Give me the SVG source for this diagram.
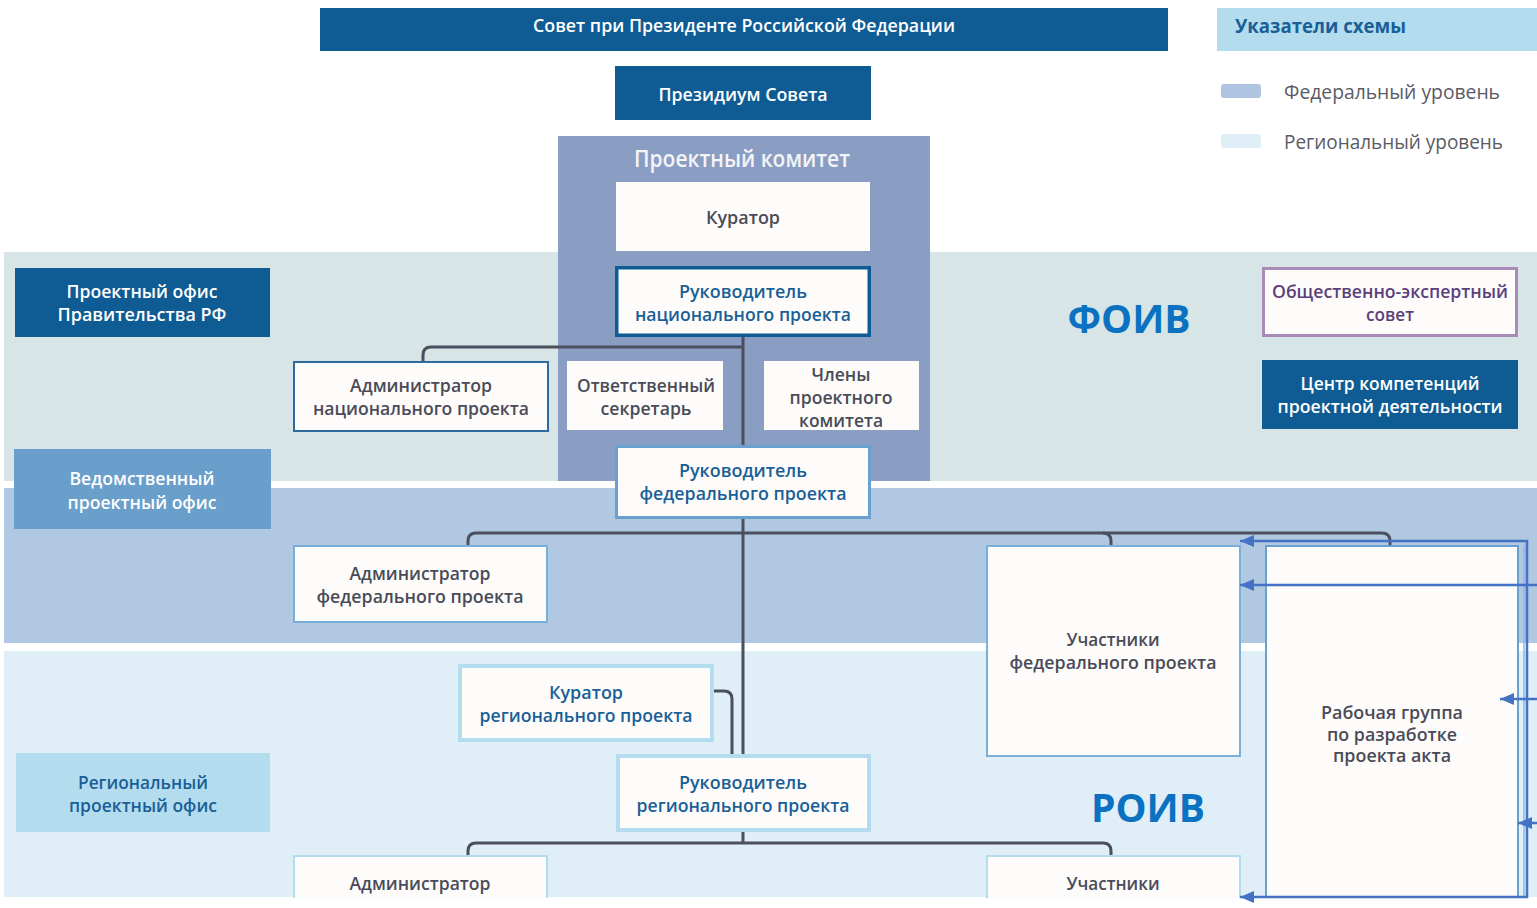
<svg xmlns="http://www.w3.org/2000/svg" width="1537" height="908" viewBox="0 0 1537 908">
<defs>
<style>
.t{font-family:"Open Sans","Noto Sans","Liberation Sans",sans-serif;font-size:18px;font-weight:600;text-anchor:middle}
.w{fill:#ffffff}
.g{fill:#4a4b57}
.b{fill:#1a5f96}
.big{font-family:"Open Sans","Noto Sans","Liberation Sans",sans-serif;font-size:40px;font-weight:700;fill:#0a72c0;text-anchor:middle}
.leg{font-family:"Open Sans","Noto Sans","Liberation Sans",sans-serif;font-size:20px;font-weight:400;fill:#5a5b66}
.dark{fill:#0e5c93}
.box{fill:#fdfcfb}
.con{fill:none;stroke:#4b4f5e;stroke-width:3;stroke-linejoin:round}
.arr{fill:none;stroke:#4472c4;stroke-width:2.5}
</style>
<marker id="ah" viewBox="0 0 14 12" refX="14" refY="6" markerWidth="14" markerHeight="12" markerUnits="userSpaceOnUse" orient="auto-start-reverse">
<path d="M0,0 L14,6 L0,12 Z" fill="#4472c4"/>
</marker>
</defs>

<rect width="1537" height="908" fill="#ffffff"/>

<g id="bands">
<rect x="4" y="252" width="1533" height="229" fill="#d8e5e6"/>
<rect x="4" y="488" width="1533" height="155" fill="#b0c8e2"/>
<rect x="4" y="651" width="1533" height="246" fill="#e0eef8"/>
</g>

<g id="legend">
<rect x="1217" y="8" width="320" height="43" fill="#b3dcef"/>
<text x="1235" y="33" font-family="Open Sans, Noto Sans, Liberation Sans, sans-serif" font-size="20" font-weight="700" fill="#1a5f96" textLength="171" lengthAdjust="spacingAndGlyphs">Указатели схемы</text>
<rect x="1221" y="84" width="40" height="14" rx="3" fill="#aec4e0"/>
<text class="leg" x="1284" y="99" textLength="216" lengthAdjust="spacingAndGlyphs">Федеральный уровень</text>
<rect x="1221" y="134" width="40" height="14" rx="3" fill="#e0eef8"/>
<text class="leg" x="1284" y="149" textLength="219" lengthAdjust="spacingAndGlyphs">Региональный уровень</text>
</g>

<g id="sovet">
<rect class="dark" x="320" y="8" width="848" height="43"/>
<text class="t w" x="744" y="32" textLength="422" lengthAdjust="spacingAndGlyphs">Совет при Президенте Российской Федерации</text>
</g>

<g id="prezidium">
<rect class="dark" x="615" y="66" width="256" height="54"/>
<text class="t w" x="743" y="101" textLength="169" lengthAdjust="spacingAndGlyphs">Президиум Совета</text>
</g>

<g id="komitet">
<rect x="558" y="136" width="372" height="345" fill="#8a9dc3"/>
<text class="t" x="742" y="167" style="font-size:23px" fill="#f4f4f6" textLength="216" lengthAdjust="spacingAndGlyphs">Проектный комитет</text>
</g>

<g id="connectors">
<path class="con" d="M743,337 V754"/>
<path class="con" d="M743,347 H431 Q423,347 423,355 V361"/>
<path class="con" d="M468,545 V541 Q468,533 476,533 H1382 Q1390,533 1390,541 V545"/>
<path class="con" d="M1103,533 Q1111,533 1111,541 V545"/>
<path class="con" d="M713,691 H724 Q732,691 732,699 V755"/>
<path class="con" d="M743,831 V843"/>
<path class="con" d="M468,855 V851 Q468,843 476,843 H1103 Q1111,843 1111,851 V855"/>
</g>

<g id="kurator">
<rect class="box" x="616" y="182" width="254" height="69"/>
<text class="t g" x="743" y="224" textLength="74" lengthAdjust="spacingAndGlyphs">Куратор</text>
</g>

<g id="ruk-nac">
<rect class="box" x="616.75" y="267.75" width="252.5" height="67.5" stroke="#0e5c93" stroke-width="3.5"/>
<text class="t b" x="743" y="298" textLength="128" lengthAdjust="spacingAndGlyphs">Руководитель</text>
<text class="t b" x="743" y="321" textLength="216" lengthAdjust="spacingAndGlyphs">национального проекта</text>
</g>

<g id="adm-nac">
<rect class="box" x="294" y="362" width="254" height="69" stroke="#2e6aa0" stroke-width="2"/>
<text class="t g" x="421" y="392" textLength="142" lengthAdjust="spacingAndGlyphs">Администратор</text>
<text class="t g" x="421" y="415" textLength="216" lengthAdjust="spacingAndGlyphs">национального проекта</text>
</g>

<g id="sekretar">
<rect class="box" x="567" y="361" width="156" height="69"/>
<text class="t g" x="646" y="392" textLength="138" lengthAdjust="spacingAndGlyphs">Ответственный</text>
<text class="t g" x="646" y="415" textLength="91" lengthAdjust="spacingAndGlyphs">секретарь</text>
</g>

<g id="chleny">
<rect class="box" x="764" y="361" width="155" height="69"/>
<text class="t g" x="841" y="381" textLength="59" lengthAdjust="spacingAndGlyphs">Члены</text>
<text class="t g" x="841" y="404" textLength="103" lengthAdjust="spacingAndGlyphs">проектного</text>
<text class="t g" x="841" y="427" textLength="84" lengthAdjust="spacingAndGlyphs">комитета</text>
</g>

<g id="ruk-fed">
<rect class="box" x="616.5" y="446.5" width="253" height="71" stroke="#6aa0cf" stroke-width="3"/>
<text class="t b" x="743" y="477" textLength="128" lengthAdjust="spacingAndGlyphs">Руководитель</text>
<text class="t b" x="743" y="500" textLength="207" lengthAdjust="spacingAndGlyphs">федерального проекта</text>
</g>

<g id="po-prav">
<rect class="dark" x="15" y="268" width="255" height="69"/>
<text class="t w" x="142" y="298" textLength="151" lengthAdjust="spacingAndGlyphs">Проектный офис</text>
<text class="t w" x="142" y="321" textLength="169" lengthAdjust="spacingAndGlyphs">Правительства РФ</text>
</g>

<g id="po-ved">
<rect x="14" y="449" width="257" height="80" fill="#6a9ecb"/>
<text class="t w" x="142" y="485" textLength="145" lengthAdjust="spacingAndGlyphs">Ведомственный</text>
<text class="t w" x="142" y="509" textLength="149" lengthAdjust="spacingAndGlyphs">проектный офис</text>
</g>

<g id="po-reg">
<rect x="16" y="753" width="254" height="79" fill="#b3dcef"/>
<text class="t b" x="143" y="789" textLength="130" lengthAdjust="spacingAndGlyphs">Региональный</text>
<text class="t b" x="143" y="812" textLength="148" lengthAdjust="spacingAndGlyphs">проектный офис</text>
</g>

<g id="foiv"><text class="big" x="1129" y="333" textLength="123" lengthAdjust="spacingAndGlyphs">ФОИВ</text></g>
<g id="roiv"><text class="big" x="1148" y="822" textLength="114" lengthAdjust="spacingAndGlyphs">РОИВ</text></g>

<g id="obsh-sovet">
<rect class="box" x="1263.5" y="268.5" width="253" height="67" stroke="#a98bb9" stroke-width="3"/>
<text class="t" x="1390" y="298" fill="#5b3f7a" textLength="236" lengthAdjust="spacingAndGlyphs">Общественно-экспертный</text>
<text class="t" x="1390" y="321" fill="#5b3f7a" textLength="48" lengthAdjust="spacingAndGlyphs">совет</text>
</g>

<g id="centr">
<rect class="dark" x="1262" y="360" width="256" height="69"/>
<text class="t w" x="1390" y="390" textLength="179" lengthAdjust="spacingAndGlyphs">Центр компетенций</text>
<text class="t w" x="1390" y="413" textLength="225" lengthAdjust="spacingAndGlyphs">проектной деятельности</text>
</g>

<g id="adm-fed">
<rect class="box" x="294" y="546" width="253" height="76" stroke="#7aaedb" stroke-width="2"/>
<text class="t g" x="420" y="580" textLength="141" lengthAdjust="spacingAndGlyphs">Администратор</text>
<text class="t g" x="420" y="603" textLength="207" lengthAdjust="spacingAndGlyphs">федерального проекта</text>
</g>

<g id="uch-fed">
<rect class="box" x="987" y="546" width="253" height="210" stroke="#7aaedb" stroke-width="2"/>
<text class="t g" x="1113" y="646" textLength="93" lengthAdjust="spacingAndGlyphs">Участники</text>
<text class="t g" x="1113" y="669" textLength="207" lengthAdjust="spacingAndGlyphs">федерального проекта</text>
</g>

<g id="rab-gruppa">
<rect class="box" x="1266" y="546" width="252" height="360" stroke="#6aa0cf" stroke-width="2"/>
<path d="M1524,545 V897" stroke="#8fb6dc" stroke-width="1.5" fill="none"/>
<text class="t g" x="1392" y="719" textLength="142" lengthAdjust="spacingAndGlyphs">Рабочая группа</text>
<text class="t g" x="1392" y="741" textLength="130" lengthAdjust="spacingAndGlyphs">по разработке</text>
<text class="t g" x="1392" y="762" textLength="118" lengthAdjust="spacingAndGlyphs">проекта акта</text>
</g>

<g id="kur-reg">
<rect class="box" x="460" y="666" width="252" height="74" stroke="#b3dcef" stroke-width="4"/>
<text class="t b" x="586" y="699" textLength="74" lengthAdjust="spacingAndGlyphs">Куратор</text>
<text class="t b" x="586" y="722" textLength="213" lengthAdjust="spacingAndGlyphs">регионального проекта</text>
</g>

<g id="ruk-reg">
<rect class="box" x="618" y="756" width="251" height="74" stroke="#b3dcef" stroke-width="4"/>
<text class="t b" x="743" y="789" textLength="128" lengthAdjust="spacingAndGlyphs">Руководитель</text>
<text class="t b" x="743" y="812" textLength="213" lengthAdjust="spacingAndGlyphs">регионального проекта</text>
</g>

<g id="adm-reg">
<rect class="box" x="294" y="856" width="253" height="60" stroke="#b3dcef" stroke-width="2"/>
<text class="t g" x="420" y="890" textLength="141" lengthAdjust="spacingAndGlyphs">Администратор</text>
</g>

<g id="uch-reg">
<rect class="box" x="987" y="856" width="253" height="60" stroke="#b3dcef" stroke-width="2"/>
<text class="t g" x="1113" y="890" textLength="93" lengthAdjust="spacingAndGlyphs">Участники</text>
</g>

<rect x="0" y="898" width="1537" height="10" fill="#ffffff"/>

<g id="arrows">
<path class="arr" d="M1240,541 H1527 V897 H1240" marker-start="url(#ah)" marker-end="url(#ah)"/>
<path class="arr" d="M1537,585 H1240" marker-end="url(#ah)"/>
<path class="arr" d="M1537,699 H1500" marker-end="url(#ah)"/>
<path class="arr" d="M1537,823 H1518" marker-end="url(#ah)"/>
</g>
</svg>
